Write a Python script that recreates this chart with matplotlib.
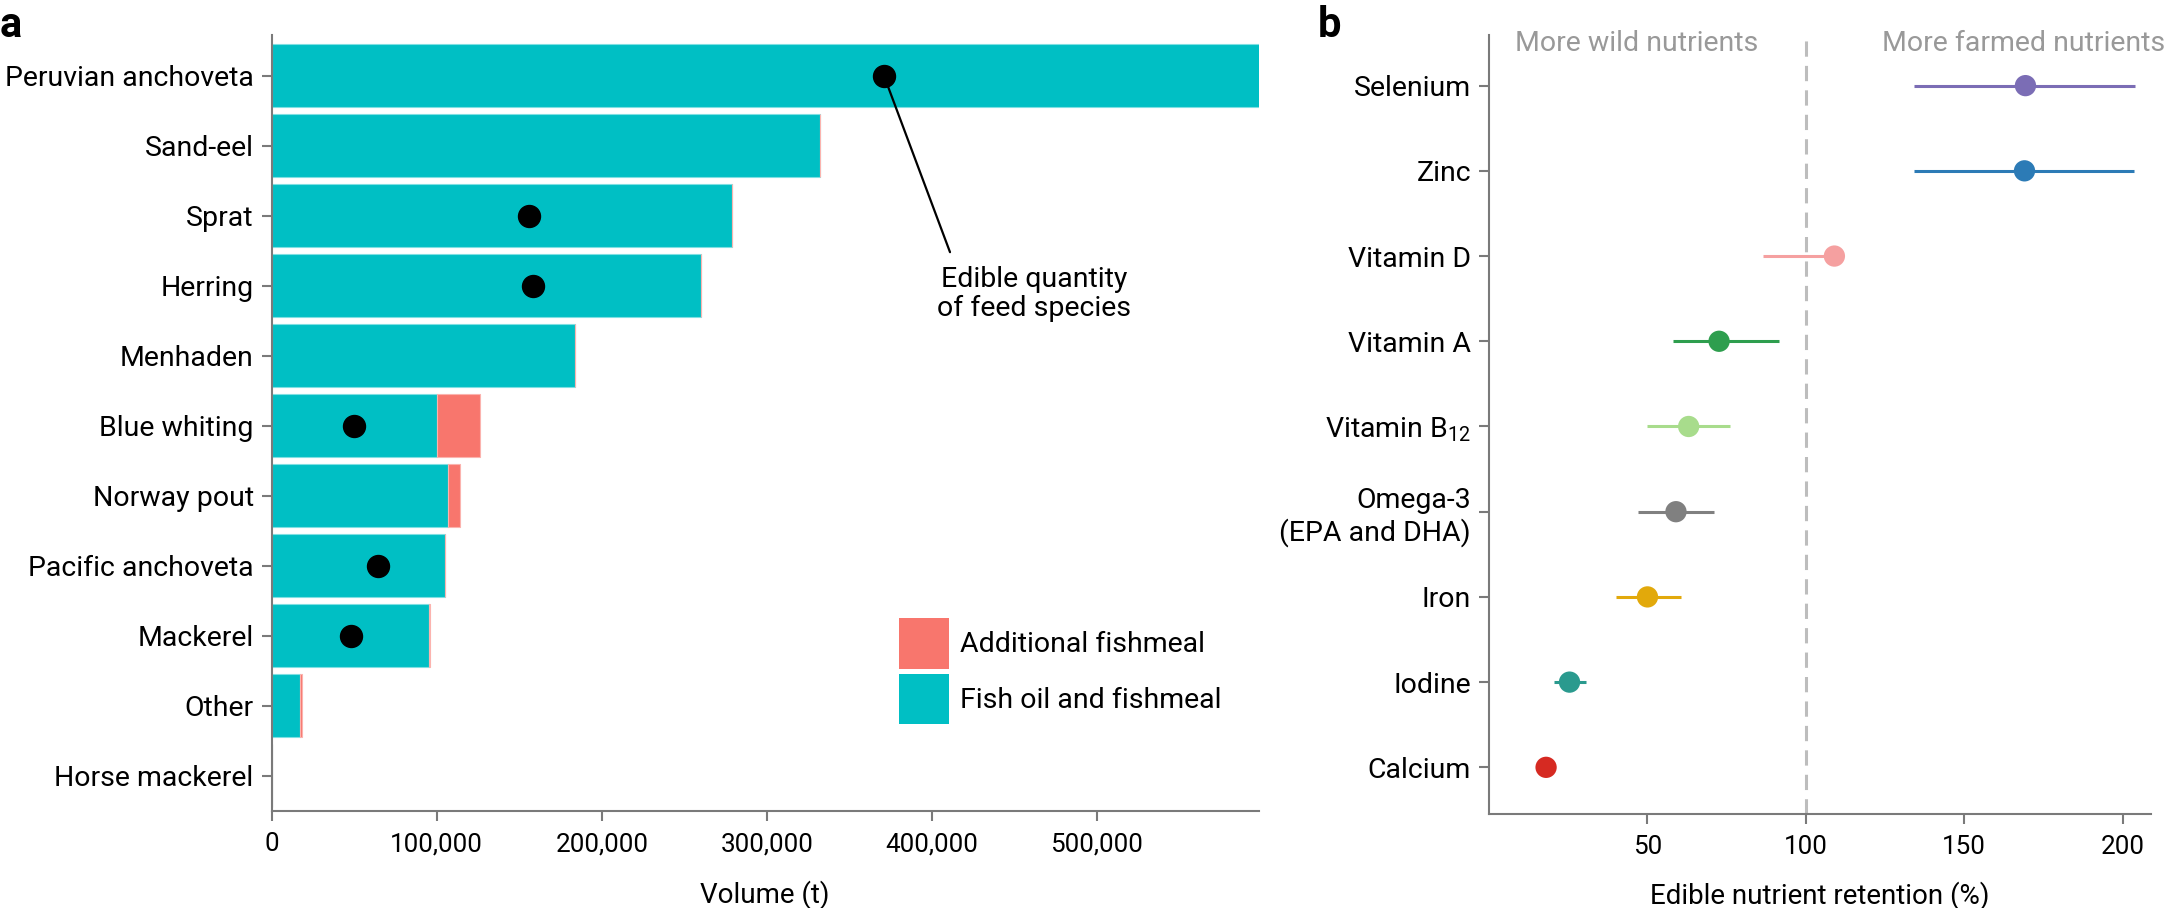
import numpy as np
import matplotlib
matplotlib.use("Agg")
import matplotlib.pyplot as plt
from matplotlib.patches import Patch
from matplotlib.ticker import FuncFormatter

plt.rcParams['font.family'] = ['Roboto', 'DejaVu Sans']
plt.rcParams['mathtext.fontset'] = 'custom'
plt.rcParams['mathtext.rm'] = 'Roboto'

# ---------------- data: panel a ----------------
species = ["Peruvian anchoveta", "Sand-eel", "Sprat", "Herring", "Menhaden",
           "Blue whiting", "Norway pout", "Pacific anchoveta", "Mackerel",
           "Other", "Horse mackerel"]
oil_and_meal = [600000, 332000, 279000, 260000, 184000, 100000, 107000,
                105000, 95000, 17000, 0]
additional_meal = [0, 0, 0, 0, 0, 26000, 7000, 0, 1000, 1500, 0]
edible_qty = [371000, np.nan, 156000, 158000, np.nan, 50000, np.nan,
              64500, 48000, np.nan, np.nan]
volume_ticks = [0, 100000, 200000, 300000, 400000, 500000]

# ---------------- data: panel b ----------------
nutrients = ["Selenium", "Zinc", "Vitamin D", "Vitamin A",
             "Vitamin B$_{\\mathregular{12}}$", "Omega-3\n(EPA and DHA)",
             "Iron", "Iodine", "Calcium"]
retention = [169.3, 169.0, 109.0, 72.6, 63.0, 59.0, 50.0, 25.4, 18.0]
ci_low = [134.0, 134.0, 86.5, 58.0, 50.0, 47.0, 40.0, 20.5, 18.0]
ci_high = [204.0, 203.5, 110.5, 91.4, 76.0, 71.0, 60.5, 30.6, 18.0]
nutrient_colors = ["#7B6DB5", "#2C7BB6", "#F5A0A0", "#2E9E4E", "#A8DC8C",
                   "#808080", "#E2A90B", "#2A9A8E", "#D62A22"]
retention_ticks = [50, 100, 150, 200]

TEAL = "#00BFC4"
SALMON = "#F8766D"
AX_GRAY = "#7a7a7a"
FS = 20.5      # category labels / annotations
FS_TICK = 18.7 # numeric tick labels
FS_LAB = 20.0  # axis titles

fig = plt.figure(figsize=(21.64, 9.08), dpi=100)

# ================= panel a =================
axa = fig.add_axes([0.1256, 0.1064, 0.456, 0.8556])
y = np.arange(len(species))
axa.barh(y, oil_and_meal, height=0.9, color=TEAL, edgecolor="#7fdfe2",
         linewidth=0.8, zorder=2)
axa.barh(y, additional_meal, left=oil_and_meal, height=0.9, color=SALMON,
         edgecolor="#fbb3ae", linewidth=0.8, zorder=2)
axa.scatter(edible_qty, y, s=250, color="black", zorder=4)

axa.set_xlim(0, 598000)
axa.set_ylim(10.51, -0.59)
axa.set_yticks(y)
axa.set_yticklabels(species, fontsize=FS)
axa.set_xticks(volume_ticks)
axa.xaxis.set_major_formatter(FuncFormatter(lambda v, p: f"{int(v):,}"))
axa.tick_params(axis='x', labelsize=FS_TICK, length=7, width=1.5, color=AX_GRAY, pad=8)
axa.tick_params(axis='y', length=7, width=1.5, color=AX_GRAY, pad=6)
axa.set_xlabel("Volume (t)", fontsize=FS_LAB, labelpad=17)
for s in ["top", "right"]:
    axa.spines[s].set_visible(False)
for s in ["left", "bottom"]:
    axa.spines[s].set_color(AX_GRAY)
    axa.spines[s].set_linewidth(1.5)

# annotation: leader line from the Peruvian anchoveta dot, centred label below
axa.annotate("", xy=(edible_qty[0], 0), xytext=(411000, 2.52),
             arrowprops=dict(arrowstyle="-", color="black", lw=1.6,
                             shrinkA=0, shrinkB=0), zorder=5)
axa.text(462000, 3.12, "Edible quantity\nof feed species", ha="center",
         va="center", fontsize=FS, linespacing=1.12, zorder=5)

handles = [Patch(facecolor=SALMON, edgecolor="none", label="Additional fishmeal"),
           Patch(facecolor=TEAL, edgecolor="none", label="Fish oil and fishmeal")]
axa.legend(handles=handles, loc="upper left", bbox_to_anchor=(0.4155, 0.319),
           bbox_transform=fig.transFigure, frameon=False, fontsize=FS,
           handlelength=1.75, handleheight=2.36, handletextpad=0.4,
           labelspacing=0.16, borderpad=0, borderaxespad=0)

fig.text(0.0, 0.995, "a", fontsize=30, fontweight="bold", va="top", ha="left")

# ================= panel b =================
axb = fig.add_axes([0.6881, 0.1033, 0.306, 0.8587])
yb = np.arange(len(nutrients))
axb.axvline(100, color="#bdbdbd", lw=2.2, ls=(0, (5, 3)), zorder=1)
for i in range(len(nutrients)):
    axb.plot([ci_low[i], ci_high[i]], [yb[i], yb[i]], color=nutrient_colors[i],
             lw=2.2, solid_capstyle="butt", zorder=2)
axb.scatter(retention, yb, s=235, c=nutrient_colors, zorder=3, linewidths=0)

axb.set_xlim(0, 209)
axb.set_ylim(8.55, -0.6)
axb.set_yticks(yb)
axb.set_yticklabels(nutrients, fontsize=FS)
axb.set_xticks(retention_ticks)
axb.tick_params(axis='x', labelsize=FS_TICK, length=7, width=1.5, color=AX_GRAY, pad=8)
axb.tick_params(axis='y', length=7, width=1.5, color=AX_GRAY, pad=6)
axb.set_xlabel("Edible nutrient retention (%)", fontsize=FS_LAB, labelpad=16)
for s in ["top", "right"]:
    axb.spines[s].set_visible(False)
for s in ["left", "bottom"]:
    axb.spines[s].set_color(AX_GRAY)
    axb.spines[s].set_linewidth(1.5)

axb.text(85, -0.5, "More wild nutrients", ha="right", va="center",
         fontsize=FS, color="#999999", clip_on=False)
axb.text(124, -0.5, "More farmed nutrients", ha="left", va="center",
         fontsize=FS, color="#999999", clip_on=False)

fig.text(0.609, 0.995, "b", fontsize=30, fontweight="bold", va="top", ha="left")

fig.savefig("out.png", dpi=100)
